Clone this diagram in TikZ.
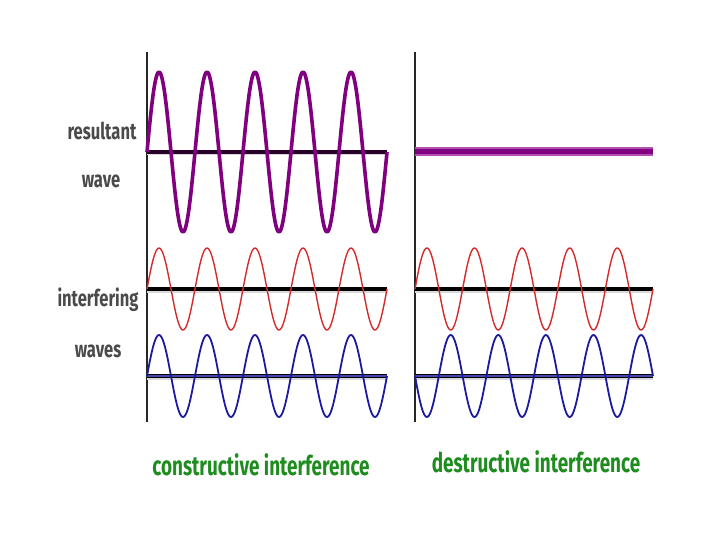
\documentclass[tikz,border=0pt]{standalone}
\usepackage{fontspec}
\newfontfamily\labelfont{Fira Sans}
\usetikzlibrary{positioning}
\definecolor{wavepurple}{HTML}{800080}
\definecolor{lightpurple}{HTML}{B050B0}
\definecolor{wavered}{HTML}{D42A2A}
\definecolor{waveblue}{HTML}{1A1AA0}
\definecolor{textgreen}{HTML}{1E8C1E}
\definecolor{labelgray}{HTML}{4A4A4A}
\begin{document}
\begin{tikzpicture}[x=1pt,y=-1pt,
    axis/.style={line width=1.6pt,black!85},
    baseline/.style={line width=3.5pt},
    shadowline/.style={line width=3pt,black!15},
    sidelabel/.style={font=\labelfont\bfseries\fontsize{23}{23}\selectfont,text=labelgray,xscale=0.72,inner sep=0pt},
    caption/.style={font=\labelfont\bfseries\fontsize{27}{27}\selectfont,text=textgreen,xscale=0.7,inner sep=0pt}]

  \useasboundingbox (0,0) rectangle (720,540);

  % axes
  \coordinate (LT) at (147,52);  \coordinate (LB) at (147,422);
  \coordinate (RT) at (415,52);  \coordinate (RB) at (415,422);
  \draw[axis] (LT) -- (LB);
  \draw[axis] (RT) -- (RB);

  % base lines
  \coordinate (RLa) at (147,152); \coordinate (RLb) at (387,152);
  \coordinate (ILa) at (147,289); \coordinate (ILb) at (387,289);
  \coordinate (WLa) at (147,376); \coordinate (WLb) at (387,376);
  \coordinate (IRa) at (415,289); \coordinate (IRb) at (653,289);
  \coordinate (WRa) at (415,376); \coordinate (WRb) at (653,376);
  \foreach \a/\b in {RLa/RLb,ILa/ILb,WLa/WLb,IRa/IRb,WRa/WRb}
    \draw[shadowline] ([yshift=-2pt]\a) -- ([yshift=-2pt]\b);
  \draw[baseline,black!70!wavepurple] (RLa) -- (RLb);
  \draw[baseline,black] (ILa) -- (ILb);
  \draw[baseline,black] (IRa) -- (IRb);
  \draw[baseline,black] (WLa) -- (WLb);
  \draw[baseline,black] (WRa) -- (WRb);
  \draw[line width=1.4pt,waveblue!80] (WLa) -- (WLb);
  \draw[line width=1.4pt,waveblue!80] (WRa) -- (WRb);

  % flat resultant
  \coordinate (FLa) at (415,152); \coordinate (FLb) at (653,152);
  \draw[line width=9pt,lightpurple] (FLa) -- (FLb);
  \draw[line width=5pt,wavepurple] (FLa) -- (FLb);

  % waves
  \draw[wavepurple,line width=3.6pt,line join=round]
    plot[domain=0:240,samples=241,smooth] (\x+147,{152-80*sin(\x*7.5)});
  \draw[wavered,line width=1.4pt]
    plot[domain=0:240,samples=241,smooth] (\x+147,{289-41*sin(\x*7.5)});
  \draw[waveblue,line width=1.8pt]
    plot[domain=0:240,samples=241,smooth] (\x+147,{376-41*sin(\x*7.5)});
  \draw[wavered,line width=1.4pt]
    plot[domain=0:238,samples=241,smooth] (\x+415,{289-41*sin(\x*7.563)});
  \draw[waveblue,line width=1.8pt]
    plot[domain=0:238,samples=241,smooth] (\x+415,{376+41*sin(\x*7.563)});

  % labels
  \node[sidelabel] (res)  at (102,131) {resultant};
  \node[sidelabel] (wave) at (101,181) {wave};
  \node[sidelabel] (intf) at (98,300)  {interfering};
  \node[sidelabel] (wvs)  at (98,351)  {waves};
  \node[caption] (con) at (261,465) {constructive interference};
  \node[caption] (des) at (536,462) {destructive interference};
\end{tikzpicture}
\end{document}
